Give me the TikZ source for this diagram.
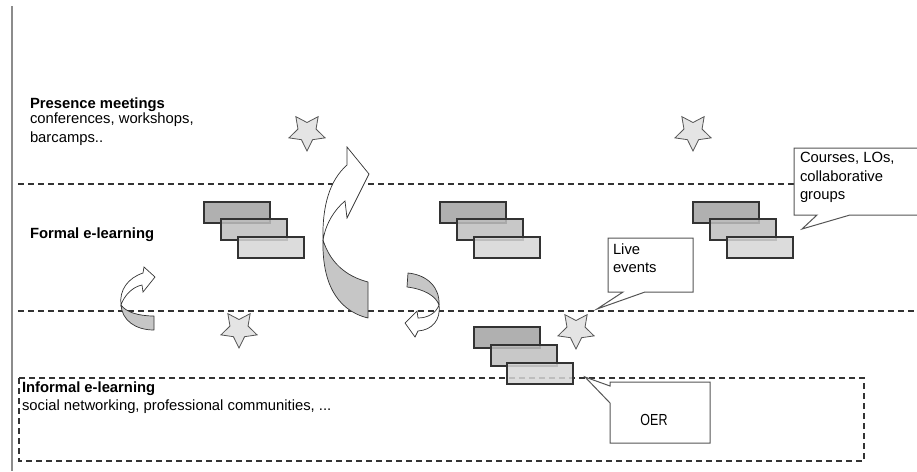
\documentclass[tikz,border=0pt]{standalone}
\usepackage{fontspec}
\setmainfont{Liberation Sans}
\usetikzlibrary{shapes.geometric,calc}
\definecolor{linegray}{HTML}{333333}
\definecolor{boxgray}{HTML}{555555}
\definecolor{leftbar}{HTML}{8C8C8C}
\definecolor{blkA}{HTML}{A2A2A2}
\definecolor{blkB}{HTML}{BEBEBE}
\definecolor{blkC}{HTML}{D6D6D6}
\definecolor{starfill}{HTML}{E4E4E4}
\definecolor{arrowgray}{HTML}{C6C6C6}
\tikzset{
  sep/.style={draw=linegray, line width=1.3pt, dash pattern=on 6pt off 4pt},
  blk/.style={draw=linegray, line width=1.1pt, fill opacity=0.85, minimum width=66pt, minimum height=21pt, inner sep=0pt, outer sep=0pt, anchor=north west},
  starnode/.style={star, star points=5, star point ratio=0.5, minimum size=19pt, inner sep=0pt, draw=boxgray, line width=0.8pt, fill=starfill},
  callout/.style={draw=boxgray, line width=1pt, fill=white, line join=miter},
  arrowback/.style={draw=linegray, line width=0.7pt, fill=arrowgray, line join=round},
  arrowfront/.style={draw=linegray, line width=0.7pt, fill=white, line join=miter},
  txt/.style={inner sep=0pt, outer sep=0pt, anchor=base west, font=\fontsize{14.8}{18}\selectfont},
  btxt/.style={txt, font=\fontsize{14.8}{18}\selectfont\bfseries}
}
\begin{document}
\begin{tikzpicture}[x=1pt,y=-1pt]
\useasboundingbox (0,0) rectangle (917,471);
% left bar
\coordinate (barTop) at (12,6);
\coordinate (barBot) at (12,471);
\draw[leftbar, line width=2pt] (barTop) -- (barBot);
% separators
\coordinate (sepAl) at (18,184);
\coordinate (sepAr) at (917,184);
\coordinate (sepBl) at (18,311);
\coordinate (sepBr) at (917,311);
\draw[sep] (sepAl) -- (sepAr);
\draw[sep] (sepBl) -- (sepBr);
% informal region
\coordinate (infNW) at (19,378);
\coordinate (infSE) at (864,461);
\draw[sep] (infNW) rectangle (infSE);

% block stacks
\node[blk, fill=blkA] (s1a) at (204,202) {};
\node[blk, fill=blkB] (s1b) at (221,219) {};
\node[blk, fill=blkC] (s1c) at (238,237) {};
\node[blk, fill=blkA] (s2a) at (440,202) {};
\node[blk, fill=blkB] (s2b) at (457,219) {};
\node[blk, fill=blkC] (s2c) at (474,237) {};
\node[blk, fill=blkA] (s3a) at (693,202) {};
\node[blk, fill=blkB] (s3b) at (710,219) {};
\node[blk, fill=blkC] (s3c) at (727,237) {};
\node[blk, fill=blkA] (s4a) at (474,327) {};
\node[blk, fill=blkB] (s4b) at (491,345) {};
\node[blk, fill=blkC] (s4c) at (507,363) {};

% stars
\node[starnode] (star1) at (307,132) {};
\node[starnode] (star2) at (693,132) {};
\node[starnode] (star3) at (239,329) {};
\node[starnode] (star4) at (576,330) {};

% big curved arrow
\path[arrowback] (323,240) .. controls (322,280) and (335,310) .. (368,318)
  -- (368,282) .. controls (345,276) and (330,262) .. (323,240) -- cycle;
\path[arrowfront] (323,241) .. controls (322,205) and (330,180) .. (347,165)
  -- (347,147) -- (369,174) -- (347,218) -- (345,201)
  .. controls (334,210) and (325,225) .. (323,241) -- cycle;

% small left arrow
\path[arrowback] (121,305) .. controls (122,320) and (135,330) .. (154,330)
  -- (154,316) .. controls (138,316) and (126,312) .. (121,305) -- cycle;
\path[arrowfront] (121,305) .. controls (119,290) and (128,278) .. (143,273)
  -- (144,267) -- (155,277) -- (143,292) -- (142,285)
  .. controls (132,287) and (124,296) .. (121,305) -- cycle;

% small right arrow
\path[arrowback] (408,273) .. controls (428,275) and (440,288) .. (439,305)
  .. controls (436,296) and (424,289) .. (407,287) -- cycle;
\path[arrowfront] (439,305) .. controls (441,320) and (432,330) .. (418,331)
  -- (415,337) -- (405,323) -- (417,311) -- (418,318)
  .. controls (428,318) and (436,313) .. (439,305) -- cycle;

% callout: Live events
\coordinate (liveTip) at (597,309);
\path[callout] (608,238) -- (693,238) -- (693,292) -- (645,292) -- (liveTip) -- (623,292) -- (608,292) -- cycle;
% callout: Courses
\coordinate (crsTip) at (802,229);
\path[callout] (794,148) -- (925,148) -- (925,215) -- (850,215) -- (crsTip) -- (817,215) -- (794,215) -- cycle;
% callout: OER
\coordinate (oerTip) at (585,377);
\path[callout] (610,382) -- (710,382) -- (710,443) -- (610,443) -- (610,403) -- (oerTip) -- (610,386) -- cycle;

% texts
\node[btxt] (presT) at (30,108) {Presence meetings};
\node[txt] (presA) at (30,123) {conferences, workshops,};
\node[txt] (presB) at (30,142) {barcamps..};
\node[btxt] (formT) at (30,238) {Formal e-learning};
\node[btxt] (infT) at (22,392) {Informal e-learning};
\node[txt] (infA) at (22,410) {social networking, professional communities, ...};
\node[txt] (liveA) at (613,254) {Live};
\node[txt] (liveB) at (613,272) {events};
\node[txt] (crsA) at (800,162) {Courses, LOs,};
\node[txt] (crsB) at (800,181) {collaborative};
\node[txt] (crsC) at (800,199) {groups};
\node[inner sep=0pt, anchor=base, font=\fontsize{16}{18}\selectfont, xscale=0.78] (oerT) at (654,425) {OER};
\end{tikzpicture}
\end{document}
